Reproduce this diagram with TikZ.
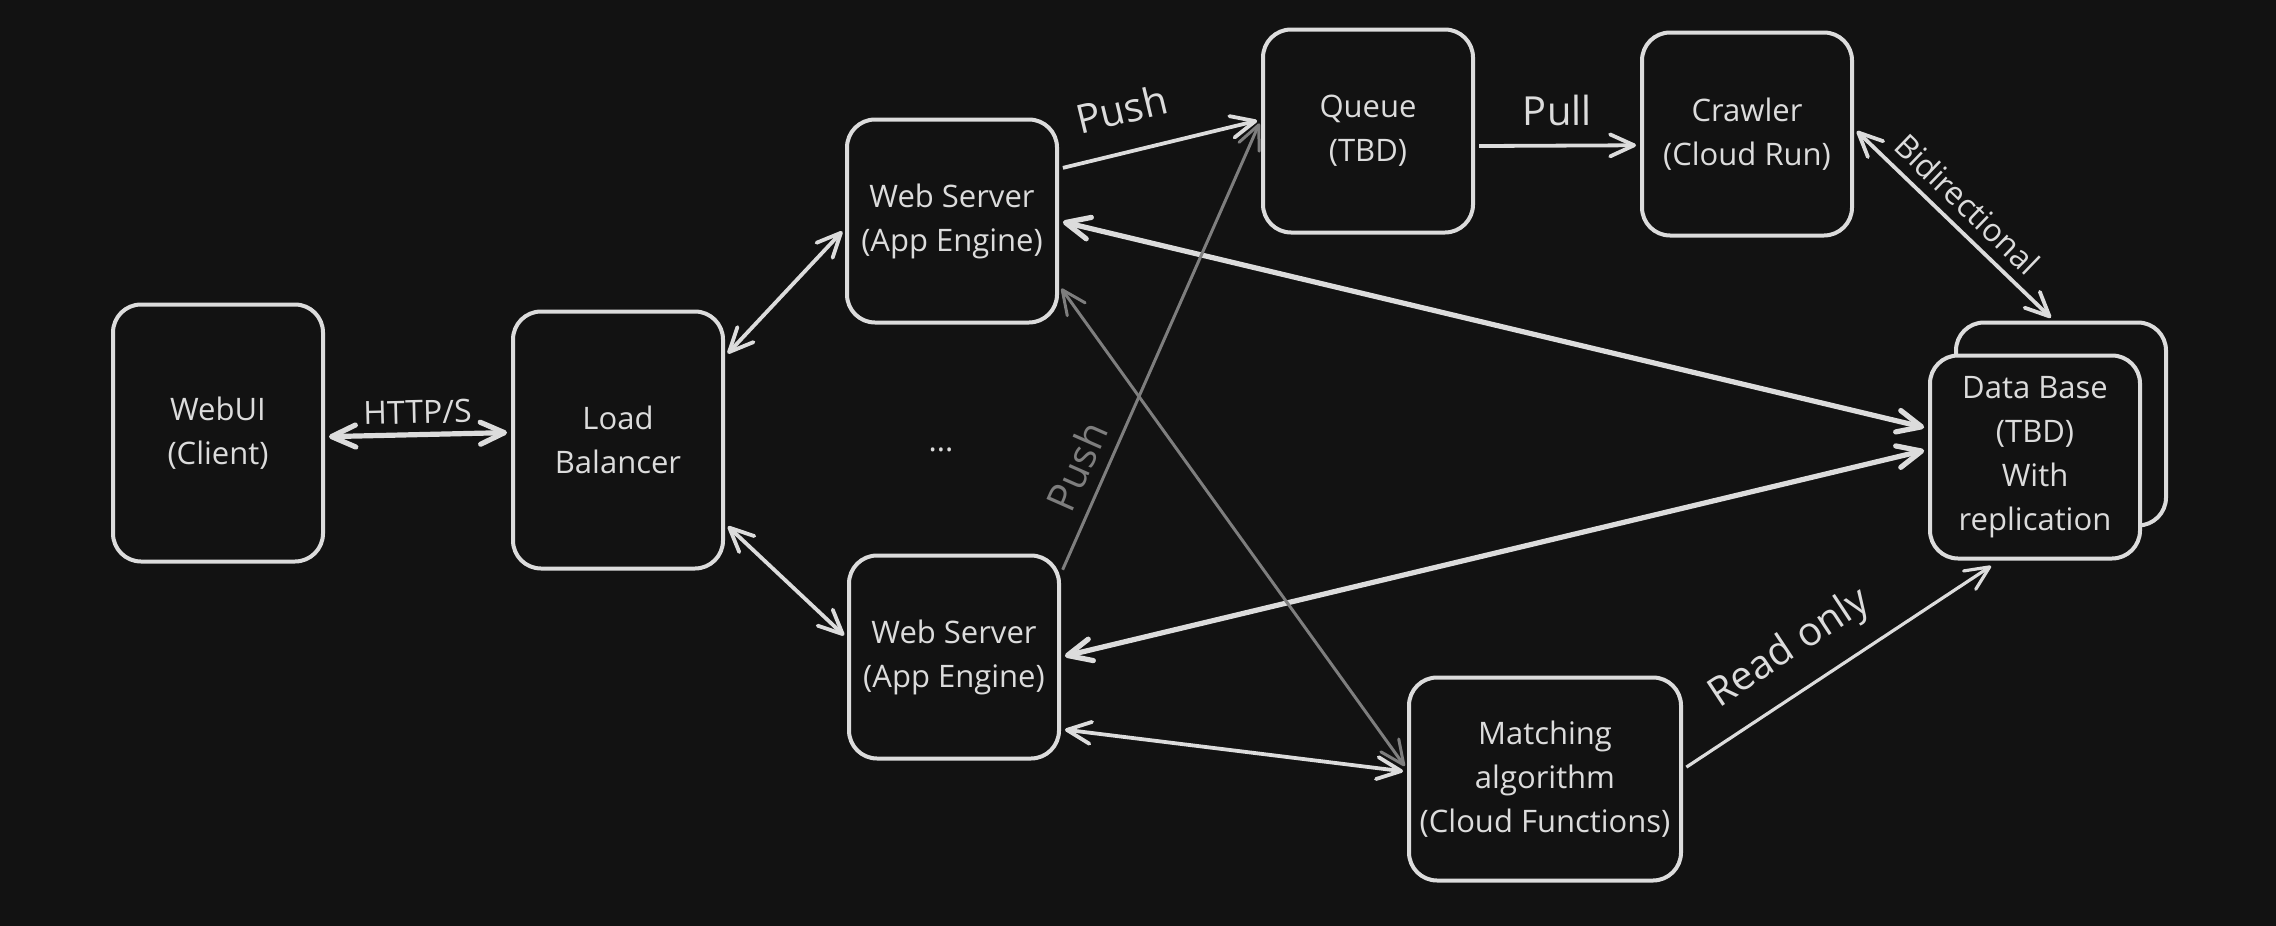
\documentclass[tikz,border=0pt]{standalone}
\usepackage{fontspec}
\setmainfont{Open Sans}
\usetikzlibrary{arrows.meta}
\definecolor{bgdark}{HTML}{121212}
\definecolor{inkline}{HTML}{DCDCDC}
\definecolor{inkgray}{HTML}{7E7E7E}
\newcommand{\boxfont}{\fontsize{15.5}{22}\selectfont}
\newcommand{\tagfont}{\fontsize{20}{24}\selectfont}
\newcommand{\smalltagfont}{\fontsize{16}{20}\selectfont}

\begin{document}
\begin{tikzpicture}[<->,>={Straight Barb[length=12pt,width=11pt,round]},
                    shorten >=2pt,shorten <=2pt,x=0.5pt,y=-0.5pt,
                    color=inkline,line width=1.9pt]
  \tikzstyle{block}=[draw,rounded corners=14pt,fill=bgdark,text=inkline,
                     font=\boxfont,align=center,inner sep=2pt,line width=2pt,
                     minimum width=105pt,minimum height=101.5pt]
  \tikzstyle{tag}=[font=\tagfont,inner sep=3pt,sloped]
  \tikzstyle{smalltag}=[font=\smalltagfont,inner sep=3pt,sloped]
  \tikzstyle{heavy}=[line width=2.6pt]
  \tikzstyle{light}=[line width=1.6pt]
  \tikzstyle{dim}=[color=inkgray,line width=1.5pt]

  \fill[bgdark,-] (0,0) rectangle (2276,926);
  \useasboundingbox (0,0) rectangle (2276,926);

  \node[block,minimum height=128.5pt] (client) at (218,433)  {WebUI\\(Client)};
  \node[block,minimum height=128.5pt] (lb)     at (618,440)  {Load\\Balancer};
  \node[block]         (wstop)   at (952,221)  {Web Server\\(App Engine)};
  \node[block]         (wsbot)   at (954,657)  {Web Server\\(App Engine)};
  \node[font=\boxfont] (dots)    at (941,450)  {...};
  \node[block]         (queue)   at (1368,131) {Queue\\(TBD)};
  \node[block]         (crawler) at (1747,134) {Crawler\\(Cloud Run)};
  \node[block]         (dbback)  at (2061,424) {};
  \node[block]         (db)      at (2035,457) {Data Base\\(TBD)\\With\\replication};
  \node[block,minimum width=136pt] (match) at (1545,779) {Matching\\algorithm\\(Cloud Functions)};

  \path (client.-2) edge[heavy]    node[smalltag,above=1pt] {HTTP/S} (lb.176)
        (lb.38)     edge           (wstop.184)
        (lb.-38)    edge           (wsbot.170)
        (wstop.26)  edge[->]       node[tag,above=10pt,pos=0.36] {Push} (queue.174)
        (queue.-8)  edge[->]       node[tag,above=6pt] {Pull} (crawler.186)
        (crawler.3) edge           node[smalltag,above=2pt,pos=0.485] {Bidirectional} (dbback.94)
        (wstop.east) edge[heavy]   (db.165)
        (wsbot.east) edge[heavy]   (db.176)
        (wsbot.38.5) edge[->,dim]  node[tag,above=3pt,pos=0.21] {Push} (queue.174)
        (wstop.-31) edge[dim]      (match.176)
        (wsbot.-34) edge           (match.177)
        (match.4)   edge[->,light,shorten >=5pt] node[tag,above=7pt,pos=0.41] {Read only} (db.-109);
\end{tikzpicture}
\end{document}
